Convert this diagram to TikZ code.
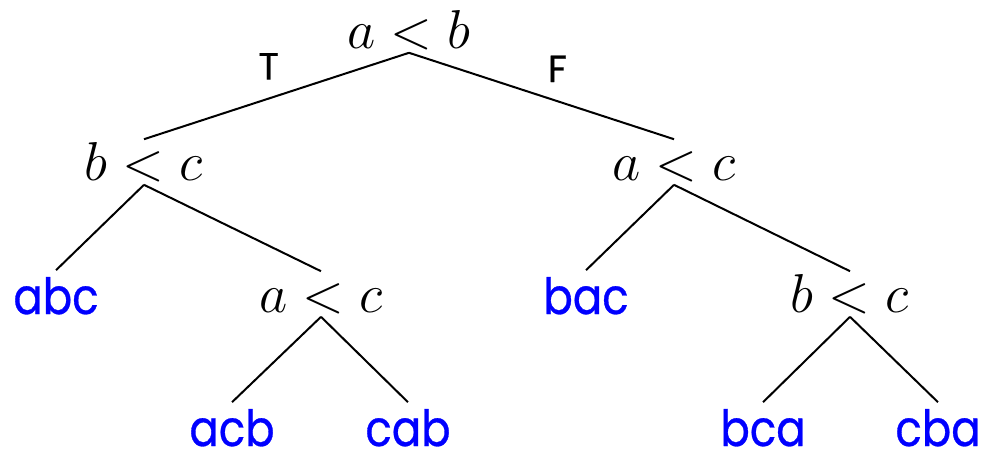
\RequirePackage{fix-cm}
\documentclass[tikz,border=0pt]{standalone}
\usepackage{fontspec}
\newfontfamily\leaffont[FakeStretch=0.87, FakeBold=0.6]{Poppins}
\newfontfamily\branchfont[FakeBold=0.3]{Poppins}
\begin{document}
\begin{tikzpicture}[x=0.25pt,y=-0.25pt,
  test/.style={anchor=base, inner sep=1pt, text height=9pt, text depth=0pt, font=\fontsize{13.7}{16}\selectfont},
  leaf/.style={anchor=base, inner sep=0.75pt, text height=10pt, text depth=0pt, text=blue, font=\leaffont\fontsize{12.5}{15}\selectfont},
  branch/.style={inner sep=0pt, above=4.5pt, font=\branchfont\fontsize{9.5}{11}\selectfont},
  edge/.style={line width=0.5pt, black}]

\useasboundingbox (0,0) rectangle (982,451);

\node[test] (ab) at (409,48) {$a<b$};
\node[test] (bcl) at (144,180) {$b<c$};
\node[test] (acr) at (674,180) {$a<c$};
\node[test] (acl) at (321,312) {$a<c$};
\node[test] (bcr) at (850,312) {$b<c$};

\node[leaf] (abc) at (56,314) {abc};
\node[leaf] (bac) at (586,314) {bac};
\node[leaf] (acb) at (232,446) {acb};
\node[leaf] (cab) at (408,446) {cab};
\node[leaf] (bca) at (763,446) {bca};
\node[leaf] (cba) at (938,446) {cba};

\draw[edge] (ab.south) to node[branch, pos=0.53] (t) {T} (bcl.north);
\draw[edge] (ab.south) to node[branch, pos=0.56] (f) {F} (acr.north);
\draw[edge] (bcl.south) to (abc.north);
\draw[edge] (bcl.south) to (acl.north);
\draw[edge] (acl.south) to (acb.north);
\draw[edge] (acl.south) to (cab.north);
\draw[edge] (acr.south) to (bac.north);
\draw[edge] (acr.south) to (bcr.north);
\draw[edge] (bcr.south) to (bca.north);
\draw[edge] (bcr.south) to (cba.north);

\end{tikzpicture}
\end{document}
